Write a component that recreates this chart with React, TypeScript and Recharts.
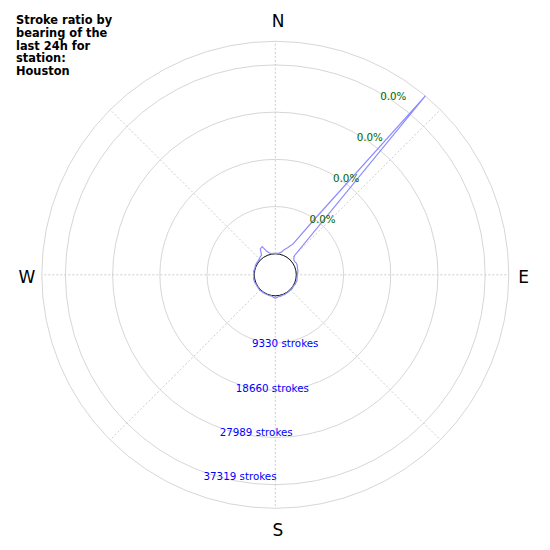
import React from "react";
import {
  RadarChart,
  Radar,
  PolarGrid,
  PolarAngleAxis,
  PolarRadiusAxis,
} from "recharts";

// bearings in 5 degree bins, clockwise from north
const BEARINGS = [
  0, 5, 10, 15, 20, 25, 30, 35, 40, 45, 50, 55, 60, 65, 70, 75, 80, 85,
  90, 95, 100, 105, 110, 115, 120, 125, 130, 135, 140, 145, 150, 155, 160, 165, 170, 175,
  180, 185, 190, 195, 200, 205, 210, 215, 220, 225, 230, 235, 240, 245, 250, 255, 260, 265,
  270, 275, 280, 285, 290, 295, 300, 305, 310, 315, 320, 325, 330, 335, 340, 345, 350, 355,
];

// strokes per bearing over the last 24h
const STROKES = [
  100, 100, 200, 490, 1190, 1780, 2960, 8890, 41984, 1190, 590, 490, 590, 590, 490, 400, 400, 300,
  200, 200, 200, 300, 200, 200, 100, 100, 200, 100, 100, 100, 100, 200, 100, 200, 200, 300,
  490, 300, 100, 100, 100, 100, 100, 100, 100, 200, 100, 100, 100, 100, 200, 200, 200, 100,
  100, 100, 200, 100, 100, 200, 200, 200, 200, 300, 490, 590, 1780, 1980, 790, 300, 100, 100,
];

const MAX_STROKES = 41984;
const RING_VALUES = [9330, 18660, 27989, 37319];
const RING_PCT = ["0.0%", "0.0%", "0.0%", "0.0%"];
const COMPASS: Record<number, string> = { 0: "N", 90: "E", 180: "S", 270: "W" };
const TITLE_LINES = ["Stroke ratio by", "bearing of the", "last 24h for", "station:", "Houston"];

const rows = BEARINGS.map((b, i) => ({ bearing: b, strokes: STROKES[i] }));

const CX = 275.3;
const CY = 274.8;
const INNER_R = 21;
const OUTER_R = 233.5;
const RAD = Math.PI / 180;
const FONT = "DejaVu Sans, sans-serif";

function CompassTick(props: any) {
  const { payload } = props;
  const label = COMPASS[payload?.value];
  if (!label) return null;
  const angle = payload.coordinate;
  const vertical = payload.value === 0 || payload.value === 180;
  const r = vertical ? 254.8 : 248.3;
  const x = CX + r * Math.cos(-angle * RAD) + (vertical ? 2.7 : 0);
  const y = CY + r * Math.sin(-angle * RAD) + (vertical ? 0.8 : 1.9);
  return (
    <text
      x={x}
      y={y}
      textAnchor="middle"
      dominantBaseline="central"
      fontSize={17}
      fontFamily={FONT}
      fill="#000"
    >
      {label}
    </text>
  );
}

function RadiusTick(props: any) {
  const { x, y, payload } = props;
  const idx = RING_VALUES.indexOf(payload?.value);
  if (idx < 0) return null;
  const r = payload.coordinate;
  // percent labels sit on the ring at bearing 30
  const gx = CX + r * Math.cos(60 * RAD);
  const gy = CY - r * Math.sin(60 * RAD);
  return (
    <g>
      <text
        x={x}
        y={y + 4.4}
        textAnchor="start"
        dominantBaseline="central"
        fontSize={10.3}
        fontFamily={FONT}
        fill="#0000ff"
      >
        {`${payload.value} strokes`}
      </text>
      <text
        x={gx}
        y={gy + 3.2}
        textAnchor="start"
        dominantBaseline="central"
        fontSize={10.3}
        fontFamily={FONT}
        fill="#006400"
      >
        {RING_PCT[idx]}
      </text>
    </g>
  );
}

export default function App() {
  return (
    <div style={{ position: "absolute", left: 0, top: 0, width: 550, height: 550, background: "#fff" }}>
      <RadarChart
        width={550}
        height={550}
        data={rows}
        cx={CX}
        cy={CY}
        innerRadius={INNER_R}
        outerRadius={OUTER_R}
        startAngle={90}
        endAngle={-270}
        margin={{ top: 0, right: 0, bottom: 0, left: 0 }}
      >
        <PolarGrid gridType="circle" radialLines={false} stroke="#cccccc" strokeWidth={0.8} />
        <PolarGrid
          gridType="circle"
          polarRadius={[]}
          polarAngles={[90, 45, 0, -45, -90, -135, -180, -225]}
          stroke="#c0c0c0"
          strokeWidth={0.8}
          strokeDasharray="2 2"
        />
        <PolarAngleAxis dataKey="bearing" tick={CompassTick} tickLine={false} axisLine={false} />
        <PolarRadiusAxis
          angle={-110}
          type="number"
          domain={[0, MAX_STROKES]}
          ticks={[0, ...RING_VALUES, MAX_STROKES]}
          tick={RadiusTick}
          axisLine={false}
          tickLine={false}
        />
        <Radar
          dataKey="strokes"
          stroke="#8c8cff"
          strokeWidth={1.2}
          fill="none"
          fillOpacity={0}
          dot={false}
          isAnimationActive={false}
        />
        <PolarGrid gridType="circle" radialLines={false} polarRadius={[INNER_R]} stroke="#000" strokeWidth={0.9} />
      </RadarChart>
      <div
        style={{
          position: "absolute",
          left: 16,
          top: 14,
          fontFamily: FONT,
          fontWeight: "bold",
          fontSize: 11.4,
          lineHeight: "12.8px",
          color: "#000",
          whiteSpace: "nowrap",
        }}
      >
        {TITLE_LINES.map((t) => (
          <div key={t}>{t}</div>
        ))}
      </div>
    </div>
  );
}
